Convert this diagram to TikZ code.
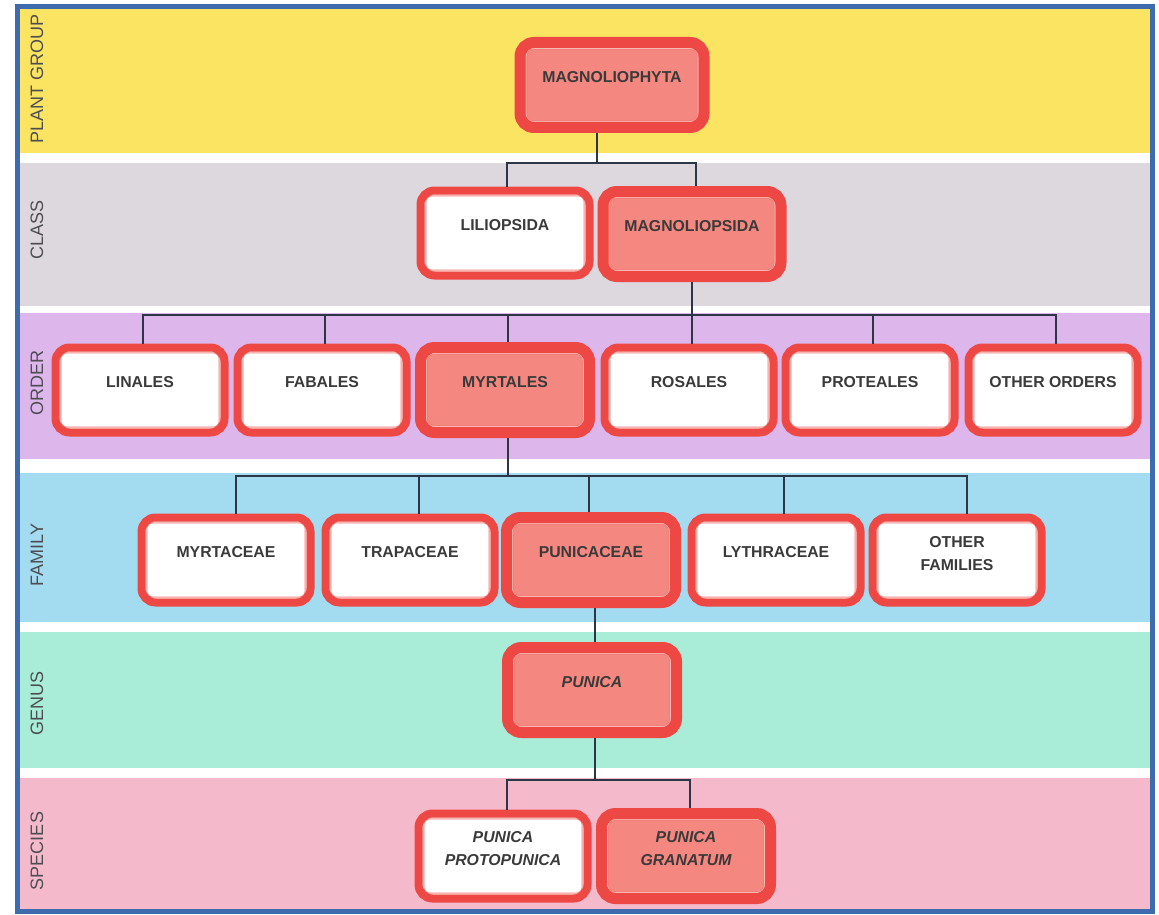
\documentclass[tikz,border=0pt]{standalone}
\usepackage{fontspec}
\setmainfont{Liberation Sans}
\definecolor{bandyellow}{HTML}{FAE461}
\definecolor{bandgray}{HTML}{DCD8DE}
\definecolor{bandpurple}{HTML}{DDB6EC}
\definecolor{bandblue}{HTML}{A3DBF1}
\definecolor{bandteal}{HTML}{A9EDD8}
\definecolor{bandpink}{HTML}{F5B9CC}
\definecolor{frameblue}{HTML}{3E6BAE}
\definecolor{nred}{HTML}{EE4844}
\definecolor{nsalmon}{HTML}{F4877F}
\definecolor{npinkline}{HTML}{F9B8B2}
\definecolor{linec}{HTML}{2D3646}
\definecolor{txtc}{HTML}{3A3A3A}
\definecolor{bandtxt}{HTML}{4E4E52}
\tikzset{
  frame/.style n args={2}{rounded corners=14pt, minimum width=169pt, minimum height=85pt,
    inner sep=0pt, draw=nred, line width=#1, fill=#2,
    path picture={
      \draw[npinkline, line width=1.2pt, rounded corners=7pt]
        ([shift={(0.5*#1+0.6pt,0.5*#1+0.6pt)}]path picture bounding box.south west) rectangle
        ([shift={(-0.5*#1-0.6pt,-0.5*#1-0.6pt)}]path picture bounding box.north east);
      \draw[nred!70, line width=0.6pt, rounded corners=6pt]
        ([shift={(0.5*#1+1.5pt,0.5*#1+1.5pt)}]path picture bounding box.south west) rectangle
        ([shift={(-0.5*#1-1.5pt,-0.5*#1-1.5pt)}]path picture bounding box.north east);
    }},
  wbox/.style={frame={8pt}{white}},
  sbox/.style={frame={11pt}{nsalmon}},
  txt/.style={text=txtc, font=\bfseries\fontsize{15.8}{23}\selectfont, align=center, inner sep=0pt},
  itxt/.style={txt, font=\bfseries\itshape\fontsize{15.8}{23}\selectfont},
  bandlabel/.style={rotate=90, text=bandtxt, font=\fontsize{18}{20}\selectfont, inner sep=0pt},
  conn/.style={draw=linec, line width=1.5pt},
}
\begin{document}
\begin{tikzpicture}[x=1pt,y=-1pt]
\useasboundingbox (0,0) rectangle (1159,915);
\fill[white] (0,0) rectangle (1159,915);
% bands
\fill[bandyellow] (20,9) rectangle (1150,153);
\fill[bandgray] (20,163) rectangle (1150,306);
\fill[bandpurple] (20,313) rectangle (1150,459);
\fill[bandblue] (20,473) rectangle (1150,622);
\fill[bandteal] (20,632) rectangle (1150,768);
\fill[bandpink] (20,778) rectangle (1150,909);
\draw[frameblue, line width=5pt] (17.5,6.5) rectangle (1152,911);
% band labels
\node[bandlabel] (lpg) at (37,79) {PLANT GROUP};
\node[bandlabel] (lcl) at (37,230) {CLASS};
\node[bandlabel] (lor) at (37,383) {ORDER};
\node[bandlabel] (lfa) at (37,555) {FAMILY};
\node[bandlabel] (lge) at (37,703) {GENUS};
\node[bandlabel] (lsp) at (37,851) {SPECIES};
% nodes
\node[sbox, minimum width=184pt, label={[txt,yshift=8pt]center:MAGNOLIOPHYTA}] (mp) at (612,85) {};
\node[wbox, label={[txt,yshift=8pt]center:LILIOPSIDA}] (lil) at (505,233) {};
\node[sbox, minimum width=178pt, label={[txt,yshift=8pt]center:MAGNOLIOPSIDA}] (mgs) at (692,234) {};
\node[wbox, label={[txt,yshift=8pt]center:LINALES}] (lin) at (140,390) {};
\node[wbox, label={[txt,yshift=8pt]center:FABALES}] (fab) at (322,390) {};
\node[sbox, label={[txt,yshift=8pt]center:MYRTALES}] (myr) at (505,390) {};
\node[wbox, label={[txt,yshift=8pt]center:ROSALES}] (ros) at (689,390) {};
\node[wbox, label={[txt,yshift=8pt]center:PROTEALES}] (pro) at (870,390) {};
\node[wbox, label={[txt,yshift=8pt]center:OTHER ORDERS}] (oth) at (1053,390) {};
\node[wbox, label={[txt,yshift=8pt]center:MYRTACEAE}] (myrt) at (226,560) {};
\node[wbox, label={[txt,yshift=8pt]center:TRAPACEAE}] (trap) at (410,560) {};
\node[sbox, label={[txt,yshift=8pt]center:PUNICACEAE}] (puni) at (591,560) {};
\node[wbox, label={[txt,yshift=8pt]center:LYTHRACEAE}] (lyth) at (776,560) {};
\node[wbox, label={[txt,yshift=6pt]center:OTHER\\FAMILIES}] (ofam) at (957,560) {};
\node[sbox, label={[itxt,yshift=8pt]center:PUNICA}] (pun) at (592,690) {};
\node[wbox, label={[itxt,yshift=7pt]center:PUNICA\\PROTOPUNICA}] (proto) at (503,856) {};
\node[sbox, label={[itxt,yshift=7pt]center:PUNICA\\GRANATUM}] (gran) at (686,856) {};
% bus levels
\coordinate (bus1) at (0,163);
\coordinate (bus2) at (0,315);
\coordinate (bus3) at (0,476);
\coordinate (bus4) at (0,780);
% connectors
\draw[conn] ([xshift=-15pt]mp.south) -- ([xshift=-15pt]mp.south |- bus1);
\draw[conn] ([xshift=2pt]lil.north) |- ([xshift=4pt]mgs.north |- bus1) -- ([xshift=4pt]mgs.north);
\draw[conn] (mgs.south) -- (mgs.south |- bus2);
\draw[conn] ([xshift=3pt]lin.north) |- ([xshift=3pt]oth.north |- bus2) -- ([xshift=3pt]oth.north);
\foreach \n in {fab,myr,ros,pro} \draw[conn] ([xshift=3pt]\n.north) -- ([xshift=3pt]\n.north |- bus2);
\draw[conn] ([xshift=3pt]myr.south) -- ([xshift=3pt]myr.south |- bus3);
\draw[conn] ([xshift=10pt]myrt.north) |- ([xshift=10pt]ofam.north |- bus3) -- ([xshift=10pt]ofam.north);
\foreach \n/\s in {trap/9,puni/-2,lyth/8} \draw[conn] ([xshift=\s pt]\n.north) -- ([xshift=\s pt]\n.north |- bus3);
\draw[conn] ([xshift=4pt]puni.south) -- ([xshift=3pt]pun.north);
\draw[conn] ([xshift=3pt]pun.south) -- ([xshift=3pt]pun.south |- bus4);
\draw[conn] ([xshift=4pt]proto.north) |- ([xshift=4pt]gran.north |- bus4) -- ([xshift=4pt]gran.north);
\end{tikzpicture}
\end{document}
